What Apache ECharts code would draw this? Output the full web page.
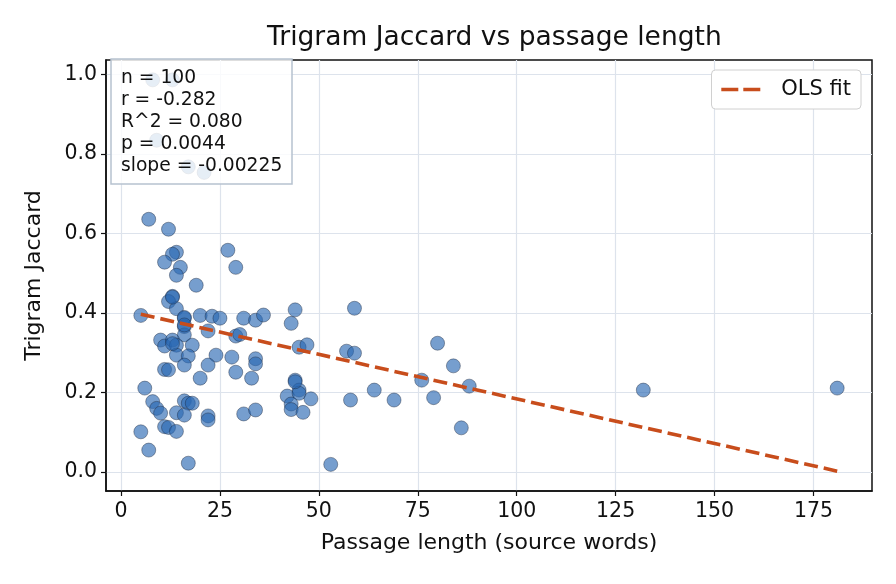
<!DOCTYPE html>
<html>
<head>
<meta charset="utf-8">
<title>Trigram Jaccard vs passage length</title>
<script src="https://cdn.jsdelivr.net/npm/echarts@6/dist/echarts.min.js"></script>
<style>
    html, body { margin: 0; padding: 0; background: #fff; }
    #chart { width: 896px; height: 584px; }
</style>
</head>
<body>
<div id="chart"></div>
<script>
// one entry per passage
const passageWords = [
    8, 13, 9, 17, 21, 7, 12, 14, 13, 11, 15, 14, 19, 27, 29,
    13, 12, 14, 5, 16, 20, 23, 25, 31, 34, 36, 44, 43, 59, 16, 22,
    16, 29, 30, 10, 11, 13, 14, 18, 45, 47, 57, 59, 14, 17, 24, 28, 34, 80,
    16, 22, 34, 11, 12, 29, 20, 33, 44, 76, 84, 6, 45, 64, 88, 132, 181,
    42, 45, 48, 43, 43, 46, 58, 69, 79, 8, 9, 10, 16, 17, 18, 14, 16, 22, 22, 31, 34,
    11, 12, 14, 5, 86, 7, 17, 53, 16, 13, 13, 16, 44
];
const trigramJaccard = [
    0.987, 0.987, 0.835, 0.768, 0.754, 0.636, 0.611, 0.553, 0.548, 0.528, 0.515, 0.495, 0.470, 0.558, 0.515,
    0.442, 0.429, 0.411, 0.394, 0.387, 0.394, 0.392, 0.387, 0.387, 0.382, 0.395, 0.408, 0.374, 0.412, 0.366, 0.355,
    0.345, 0.342, 0.346, 0.332, 0.317, 0.332, 0.319, 0.319, 0.314, 0.320, 0.304, 0.299, 0.294, 0.292, 0.294, 0.289, 0.285, 0.324,
    0.269, 0.269, 0.272, 0.258, 0.257, 0.251, 0.236, 0.236, 0.231, 0.231, 0.267, 0.211, 0.206, 0.206, 0.216, 0.206, 0.211,
    0.191, 0.198, 0.184, 0.171, 0.157, 0.150, 0.181, 0.181, 0.187, 0.177, 0.160, 0.148, 0.179, 0.173, 0.173, 0.149, 0.143, 0.141, 0.131, 0.146, 0.156,
    0.114, 0.112, 0.102, 0.101, 0.111, 0.055, 0.022, 0.019, 0.389, 0.323, 0.440, 0.370, 0.227
];

// OLS fit end points
const fitX = [5, 181];
const fitY = [0.397, 0.002];

const xTicks = [0, 25, 50, 75, 100, 125, 150, 175];
const yTicks = [0, 0.2, 0.4, 0.6, 0.8, 1.0];
const statLines = ['n = 100', 'r = -0.282', 'R^2 = 0.080', 'p = 0.0044', 'slope = -0.00225'];

const FONT = 'DejaVu Sans';
const FIT_COLOR = '#c84d1c';

let points = passageWords.map((w, i) => [w, trigramJaccard[i]]);
let fitLine = fitX.map((x, i) => [x, fitY[i]]);

let chart = echarts.init(document.getElementById('chart'), null, { renderer: 'canvas' });

chart.setOption({
    animation: false,
    backgroundColor: '#fff',
    textStyle: { fontFamily: FONT },
    title: [{
        // centred over the plot area, not the page
        text: 'Trigram Jaccard vs passage length',
        left: 262,
        top: 20,
        textStyle: { fontFamily: FONT, fontSize: 26.5, fontWeight: 'normal', color: '#111' }
    }, {
        text: statLines.join('\n'),
        left: 111,
        top: 59,
        padding: [8, 10, 7, 10],
        backgroundColor: 'rgba(255,255,255,0.82)',
        borderColor: '#b7c2d0',
        borderWidth: 1.5,
        textStyle: { fontFamily: FONT, fontSize: 18.7, fontWeight: 'normal', color: '#111', lineHeight: 22 },
        z: 10
    }],
    legend: {
        right: 35,
        top: 70,
        itemWidth: 39,
        itemHeight: 14,
        padding: [9, 10, 9, 8],
        backgroundColor: '#fff',
        borderColor: '#d0d0d0',
        borderWidth: 1,
        borderRadius: 4,
        itemStyle: { opacity: 0 },
        lineStyle: { color: FIT_COLOR, width: 3.6, type: [17, 5] },
        textStyle: { fontFamily: FONT, fontSize: 21, color: '#111', padding: [0, 0, 0, 16] },
        data: ['OLS fit']
    },
    grid: {
        left: 106,
        top: 60,
        width: 766,
        height: 431,
        show: true,
        borderColor: '#111',
        borderWidth: 1.5
    },
    xAxis: {
        type: 'value',
        min: -3.8,
        max: 189.8,
        name: 'Passage length (source words)',
        nameLocation: 'middle',
        nameGap: 41,
        nameTextStyle: { fontFamily: FONT, fontSize: 22, color: '#111' },
        axisLine: { show: true, onZero: false, lineStyle: { color: '#111', width: 1.5 } },
        axisTick: { show: true, length: 5, customValues: xTicks, lineStyle: { color: '#111', width: 1.2 } },
        axisLabel: { customValues: xTicks, margin: 10, fontFamily: FONT, fontSize: 20.5, color: '#111' },
        splitLine: { show: true, lineStyle: { color: '#dde3ec', width: 1.2 } }
    },
    yAxis: {
        type: 'value',
        min: -0.048,
        max: 1.037,
        name: 'Trigram Jaccard',
        nameLocation: 'middle',
        nameGap: 61,
        nameTextStyle: { fontFamily: FONT, fontSize: 22, color: '#111' },
        axisLine: { show: true, onZero: false, lineStyle: { color: '#111', width: 1.5 } },
        axisTick: { show: true, length: 5, customValues: yTicks, lineStyle: { color: '#111', width: 1.2 } },
        axisLabel: {
            customValues: yTicks,
            margin: 9,
            fontFamily: FONT,
            fontSize: 20.5,
            color: '#111',
            formatter: v => v.toFixed(1)
        },
        splitLine: { show: true, lineStyle: { color: '#dde3ec', width: 1.2 } }
    },
    series: [{
        type: 'scatter',
        name: 'points',
        data: points,
        symbolSize: 14,
        itemStyle: {
            color: 'rgba(40,104,178,0.8)',
            borderColor: 'rgba(25,35,55,0.85)',
            borderWidth: 0.6
        },
        z: 2
    }, {
        type: 'line',
        name: 'OLS fit',
        data: fitLine,
        symbol: 'none',
        lineStyle: { color: FIT_COLOR, width: 3.6, type: [14, 6] },
        itemStyle: { color: FIT_COLOR },
        z: 3
    }]
});
</script>
</body>
</html>
